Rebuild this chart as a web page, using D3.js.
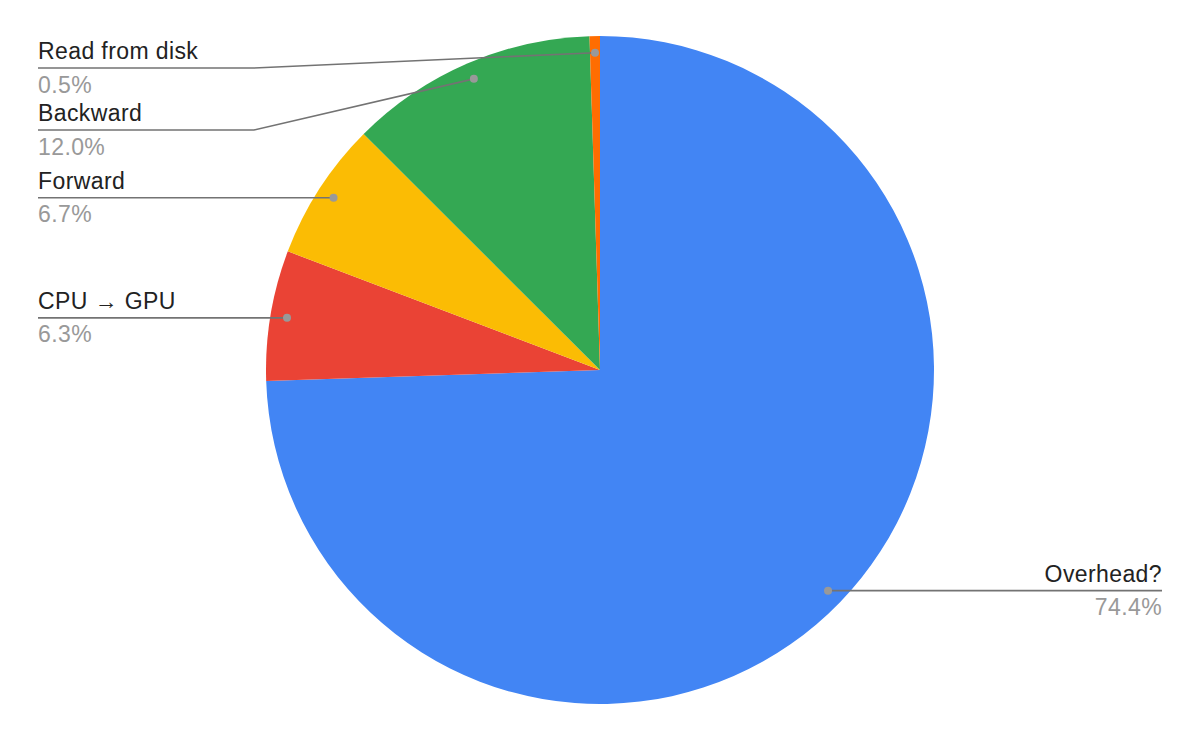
<!DOCTYPE html>
<html>
<head>
<meta charset="utf-8">
<script src="https://cdn.jsdelivr.net/npm/d3@7"></script>
<style>
  body { margin: 0; background: #fff; }
  text { font-family: "Liberation Sans", Arial, sans-serif; }
</style>
</head>
<body>
<div id="chart"></div>
<script>
const categories = ["Overhead?", "CPU → GPU", "Forward", "Backward", "Read from disk"];
const values = [74.4, 6.3, 6.7, 12.0, 0.5];
const valueLabels = ["74.4%", "6.3%", "6.7%", "12.0%", "0.5%"];
const colors = ["#4285F4", "#EA4335", "#FBBC04", "#34A853", "#FF6D01"];

const width = 1200,
  height = 742;
const cx = 600,
  cy = 370,
  radius = 334;

const svg = d3
  .select("#chart")
  .append("svg")
  .attr("width", width)
  .attr("height", height);

const g = svg.append("g").attr("transform", `translate(${cx}, ${cy})`);

const data = categories.map((c, i) => ({ name: c, value: values[i], label: valueLabels[i], color: colors[i] }));

const pie = d3.pie().sort(null).value((d) => d.value);
const arcs = pie(data);

const arc = d3.arc().innerRadius(0).outerRadius(radius);

g.selectAll("path")
  .data(arcs)
  .join("path")
  .attr("d", arc)
  .attr("fill", (d) => d.data.color);

// dot positions at 95% of the radius, along the slice middle
const dotR = radius * 0.95;
arcs.forEach((d) => {
  const a = (d.startAngle + d.endAngle) / 2;
  d.dx = cx + dotR * Math.sin(a);
  d.dy = cy - dotR * Math.cos(a);
  d.left = a > Math.PI;
});

// left labels: go from top down, push apart so they don't overlap
const leftX = 38,
  elbowX = 254,
  rightX = 1162,
  minY = 68,
  gap = 62;
const left = arcs.filter((d) => d.left).sort((a, b) => a.dy - b.dy);
let prev = -Infinity;
left.forEach((d) => {
  d.ly = Math.max(d.dy, minY, prev + gap);
  prev = d.ly;
});
arcs.filter((d) => !d.left).forEach((d) => (d.ly = d.dy));

const labels = svg.append("g");

labels
  .selectAll("path")
  .data(arcs)
  .join("path")
  .attr("fill", "none")
  .attr("stroke", "#737373")
  .attr("stroke-width", 1.6)
  .attr("d", (d) => {
    if (d.left) {
      if (Math.abs(d.ly - d.dy) < 1) return `M${leftX},${d.ly}L${d.dx},${d.dy}`;
      return `M${leftX},${d.ly}L${elbowX},${d.ly}L${d.dx},${d.dy}`;
    }
    return `M${rightX},${d.ly}L${d.dx},${d.dy}`;
  });

labels
  .selectAll("circle")
  .data(arcs)
  .join("circle")
  .attr("cx", (d) => d.dx)
  .attr("cy", (d) => d.dy)
  .attr("r", 4)
  .attr("fill", "#999");

labels
  .selectAll("text.name")
  .data(arcs)
  .join("text")
  .attr("class", "name")
  .attr("x", (d) => (d.left ? leftX : rightX))
  .attr("y", (d) => d.ly - 9)
  .attr("text-anchor", (d) => (d.left ? "start" : "end"))
  .attr("font-size", "23px")
  .attr("letter-spacing", "0.4px")
  .attr("fill", "#222")
  .text((d) => d.data.name);

labels
  .selectAll("text.value")
  .data(arcs)
  .join("text")
  .attr("class", "value")
  .attr("x", (d) => (d.left ? leftX : rightX))
  .attr("y", (d) => d.ly + 24.5)
  .attr("text-anchor", (d) => (d.left ? "start" : "end"))
  .attr("font-size", "23px")
  .attr("letter-spacing", "0.4px")
  .attr("fill", "#999")
  .text((d) => d.data.label);
</script>
</body>
</html>
